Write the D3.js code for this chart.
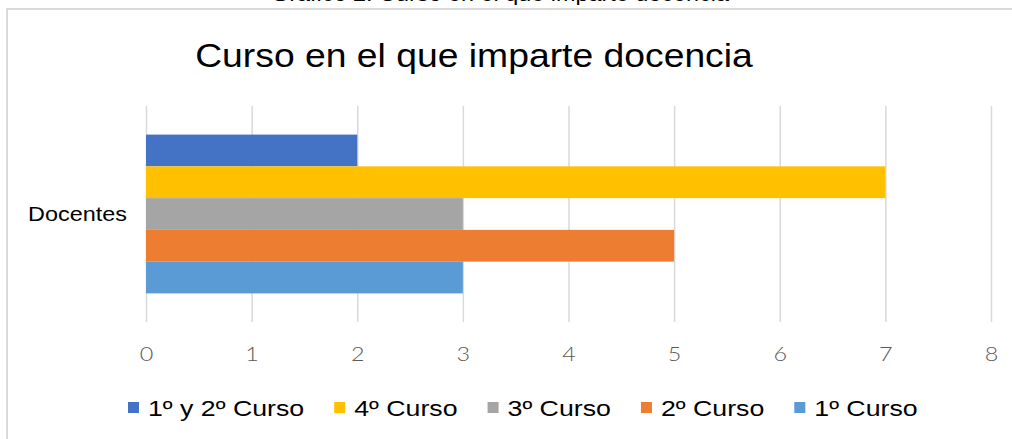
<!DOCTYPE html>
<html lang="es">

<head>
    <meta charset="UTF-8">
    <title>Curso en el que imparte docencia</title>
    <script src="https://cdn.jsdelivr.net/npm/d3@7"></script>
    <style>
        body { margin: 0; background: #fff; }
    </style>
</head>

<body>
    <div id="container"></div>

    <script>
        const width = 1012;
        const height = 439;
        const SX = 1.17; // el original está estirado en horizontal

        const categories = ['Docentes'];
        const seriesNames = ['1º y 2º Curso', '4º Curso', '3º Curso', '2º Curso', '1º Curso'];
        const seriesValues = [2, 7, 3, 5, 3];
        const seriesColors = ['#4472C4', '#FFC000', '#A5A5A5', '#ED7D31', '#5B9BD5'];
        const xTicks = [0, 1, 2, 3, 4, 5, 6, 7, 8];

        const plot = { left: 146, right: 991, top: 106, bottom: 322 };

        const svg = d3.select('#container').append('svg')
            .attr('width', width)
            .attr('height', height)
            .style('display', 'block');

        function stretch(sel, k = SX) {
            sel.each(function () {
                const len = this.getComputedTextLength();
                d3.select(this).attr('textLength', len * k).attr('lengthAdjust', 'spacingAndGlyphs');
            });
        }

        // pie de figura cortado arriba
        svg.append('text')
            .attr('x', 500).attr('y', 1)
            .attr('text-anchor', 'middle')
            .attr('font-family', 'Liberation Sans, Arial, sans-serif')
            .attr('font-size', 20)
            .attr('fill', '#000')
            .text('Gráfico 2. Curso en el que imparte docencia')
            .call(stretch);

        // marco del gráfico
        svg.append('rect')
            .attr('x', 7).attr('y', 9)
            .attr('width', width + 20).attr('height', height + 20)
            .attr('fill', '#fff')
            .attr('stroke', '#D9D9D9')
            .attr('stroke-width', 2);

        // título
        svg.append('text')
            .attr('x', 474).attr('y', 67)
            .attr('text-anchor', 'middle')
            .attr('font-family', 'Liberation Sans, Arial, sans-serif')
            .attr('font-size', 33)
            .attr('fill', '#000')
            .text('Curso en el que imparte docencia')
            .call(stretch, 1.13);

        const x = d3.scaleLinear().domain([0, 8]).range([plot.left, plot.right]);
        const y = d3.scaleBand().domain(categories).range([plot.top, plot.bottom]).paddingOuter(0.18);
        const ySeries = d3.scaleBand().domain(seriesNames).range([0, y.bandwidth()]);

        // rejilla + eje x
        const gx = svg.append('g')
            .attr('transform', `translate(0, ${plot.bottom})`)
            .call(d3.axisBottom(x).tickValues(xTicks).tickSize(-(plot.bottom - plot.top)).tickPadding(25));
        gx.select('.domain').remove();
        gx.selectAll('.tick line').attr('stroke', '#D9D9D9').attr('stroke-width', 1.5);
        gx.selectAll('.tick text')
            .attr('font-family', 'Lato, DejaVu Sans, sans-serif')
            .attr('font-weight', 300)
            .attr('font-size', 20)
            .attr('fill', '#595959')
            .call(stretch);

        // barras
        const data = seriesNames.map((name, i) => ({ name, value: seriesValues[i], color: seriesColors[i] }));
        svg.append('g').selectAll('rect').data(data).join('rect')
            .attr('x', x(0))
            .attr('y', d => y('Docentes') + ySeries(d.name))
            .attr('width', d => x(d.value) - x(0))
            .attr('height', ySeries.bandwidth())
            .attr('fill', d => d.color);

        // eje y
        svg.append('g').selectAll('text').data(categories).join('text')
            .attr('x', 127)
            .attr('y', d => y(d) + y.bandwidth() / 2)
            .attr('dy', '0.35em')
            .attr('text-anchor', 'end')
            .attr('font-family', 'Liberation Sans, Arial, sans-serif')
            .attr('font-size', 20)
            .attr('fill', '#000')
            .text(d => d)
            .call(stretch);

        // leyenda
        const legend = svg.append('g');
        let lx = 128;
        data.forEach(d => {
            legend.append('rect')
                .attr('x', lx).attr('y', 402)
                .attr('width', 11).attr('height', 11)
                .attr('fill', d.color);
            const t = legend.append('text')
                .attr('x', lx + 20).attr('y', 416)
                .attr('font-family', 'Liberation Sans, Arial, sans-serif')
                .attr('font-size', 22)
                .attr('fill', '#000')
                .text(d.name)
                .call(stretch, 1.215);
            lx += 20 + t.node().getComputedTextLength() + 30;
        });
    </script>
</body>

</html>
